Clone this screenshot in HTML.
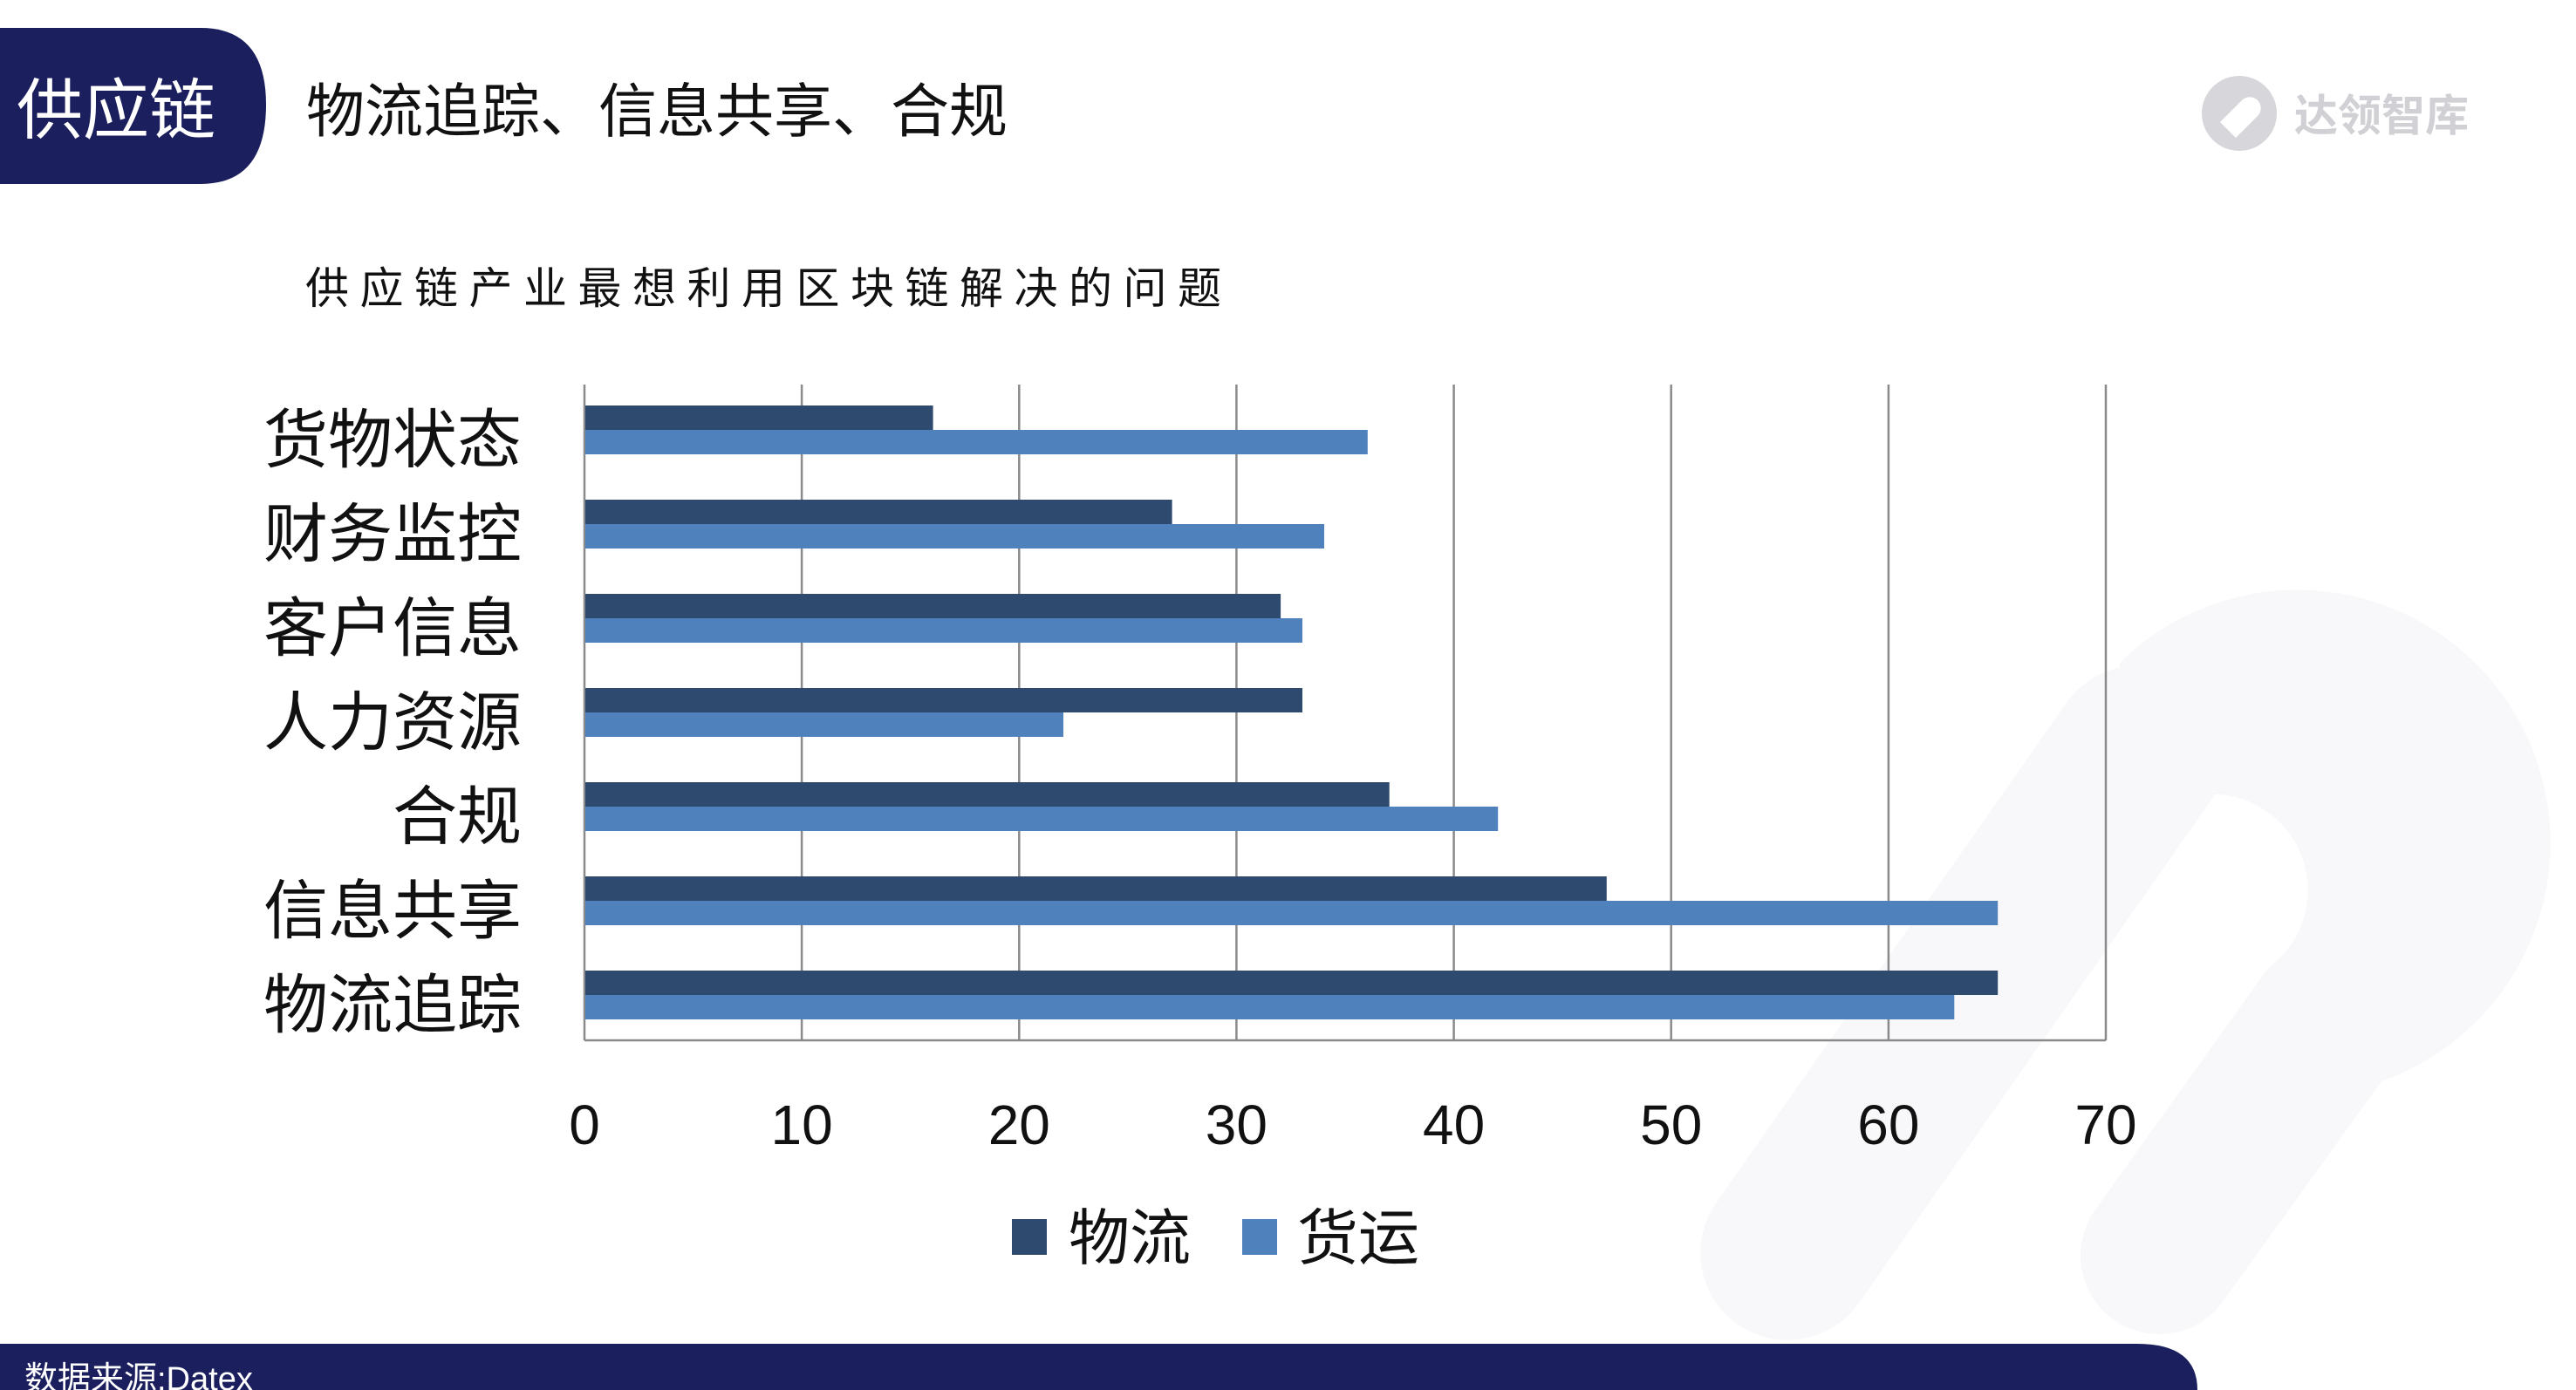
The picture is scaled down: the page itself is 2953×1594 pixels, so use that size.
<!DOCTYPE html>
<html><head><meta charset="utf-8"><style>
html,body{margin:0;padding:0;background:#fff;}
svg{display:block;font-family:"Liberation Sans","Noto Sans CJK SC",sans-serif;}
</style></head><body>
<svg width="2953" height="1594" viewBox="0 0 2953 1594" xmlns="http://www.w3.org/2000/svg">
<rect width="2953" height="1594" fill="#fff"/>
<!-- faint watermark -->
<g fill="#f8f8fa">
<rect x="2150" y="700" width="200" height="900" rx="100" transform="rotate(35 2250 1150)"/>
<path d="M2430 760 a290 290 0 1 1 300 480 l-180 250 a90 90 0 0 1 -150 -100 l200 -280 a110 110 0 1 0 -170 -120 z"/>
</g>
<!-- header -->
<path d="M0 32 H230 Q305 32 305 120 Q305 211 230 211 H0 Z" fill="#1b1f5e"/>
<text x="19" y="153" font-size="76" fill="#fff">供应链</text>
<text x="351" y="151" font-size="67" fill="#111">物流追踪、信息共享、合规</text>
<!-- logo -->
<circle cx="2567" cy="130" r="43" fill="#d6d6db"/>
<path d="M2545 140 l25 -25 a12 12 0 0 1 18 18 l-25 25 z" fill="#fff"/>
<text x="2630" y="150" font-size="50" font-weight="bold" fill="#d0d0d5">达领智库</text>
<!-- subtitle -->
<text x="350" y="348" font-size="50" letter-spacing="12.5" fill="#111">供应链产业最想利用区块链解决的问题</text>
<!-- grid -->
<g stroke="#8a8a8a" stroke-width="2.5">
<line x1="919.1" y1="441" x2="919.1" y2="1193"/>
<line x1="1168.3" y1="441" x2="1168.3" y2="1193"/>
<line x1="1417.4" y1="441" x2="1417.4" y2="1193"/>
<line x1="1666.6" y1="441" x2="1666.6" y2="1193"/>
<line x1="1915.7" y1="441" x2="1915.7" y2="1193"/>
<line x1="2164.9" y1="441" x2="2164.9" y2="1193"/>
<line x1="2414" y1="441" x2="2414" y2="1193"/>
<line x1="670" y1="441" x2="670" y2="1193"/>
<line x1="670" y1="1193" x2="2414" y2="1193"/>
</g>
<g>
<rect x="671" y="465" width="398.6" height="28" fill="#2e4a6e"/>
<rect x="671" y="493" width="896.8" height="28" fill="#4f81bd"/>
<rect x="671" y="573" width="672.6" height="28" fill="#2e4a6e"/>
<rect x="671" y="601" width="847" height="28" fill="#4f81bd"/>
<rect x="671" y="681" width="797.1" height="28" fill="#2e4a6e"/>
<rect x="671" y="709" width="822" height="28" fill="#4f81bd"/>
<rect x="671" y="789" width="822" height="28" fill="#2e4a6e"/>
<rect x="671" y="817" width="548" height="28" fill="#4f81bd"/>
<rect x="671" y="897" width="921.7" height="28" fill="#2e4a6e"/>
<rect x="671" y="925" width="1046.2" height="28" fill="#4f81bd"/>
<rect x="671" y="1005" width="1170.8" height="28" fill="#2e4a6e"/>
<rect x="671" y="1033" width="1619.2" height="28" fill="#4f81bd"/>
<rect x="671" y="1113" width="1619.2" height="28" fill="#2e4a6e"/>
<rect x="671" y="1141" width="1569.3" height="28" fill="#4f81bd"/>
</g>
<!-- category labels -->
<g font-size="74" fill="#111" text-anchor="end">
<text x="598" y="530">货物状态</text>
<text x="598" y="638">财务监控</text>
<text x="598" y="746">客户信息</text>
<text x="598" y="854">人力资源</text>
<text x="598" y="962">合规</text>
<text x="598" y="1070">信息共享</text>
<text x="598" y="1178">物流追踪</text>
</g>
<!-- ticks -->
<g font-size="64" fill="#111" text-anchor="middle">
<text x="670" y="1312">0</text>
<text x="919.1" y="1312">10</text>
<text x="1168.3" y="1312">20</text>
<text x="1417.4" y="1312">30</text>
<text x="1666.6" y="1312">40</text>
<text x="1915.7" y="1312">50</text>
<text x="2164.9" y="1312">60</text>
<text x="2414" y="1312">70</text>
</g>
<!-- legend -->
<rect x="1160" y="1398" width="40" height="41" fill="#2e4a6e"/>
<text x="1225" y="1444" font-size="70" fill="#111">物流</text>
<rect x="1424" y="1398" width="40" height="41" fill="#4f81bd"/>
<text x="1487" y="1444" font-size="70" fill="#111">货运</text>
<!-- footer -->
<path d="M0 1541 H2450 Q2519 1541 2519 1594 H0 Z" fill="#1b1f5e"/>
<text x="28" y="1594" font-size="38" fill="#fff">数据来源:Datex</text>
</svg>
</body></html>
